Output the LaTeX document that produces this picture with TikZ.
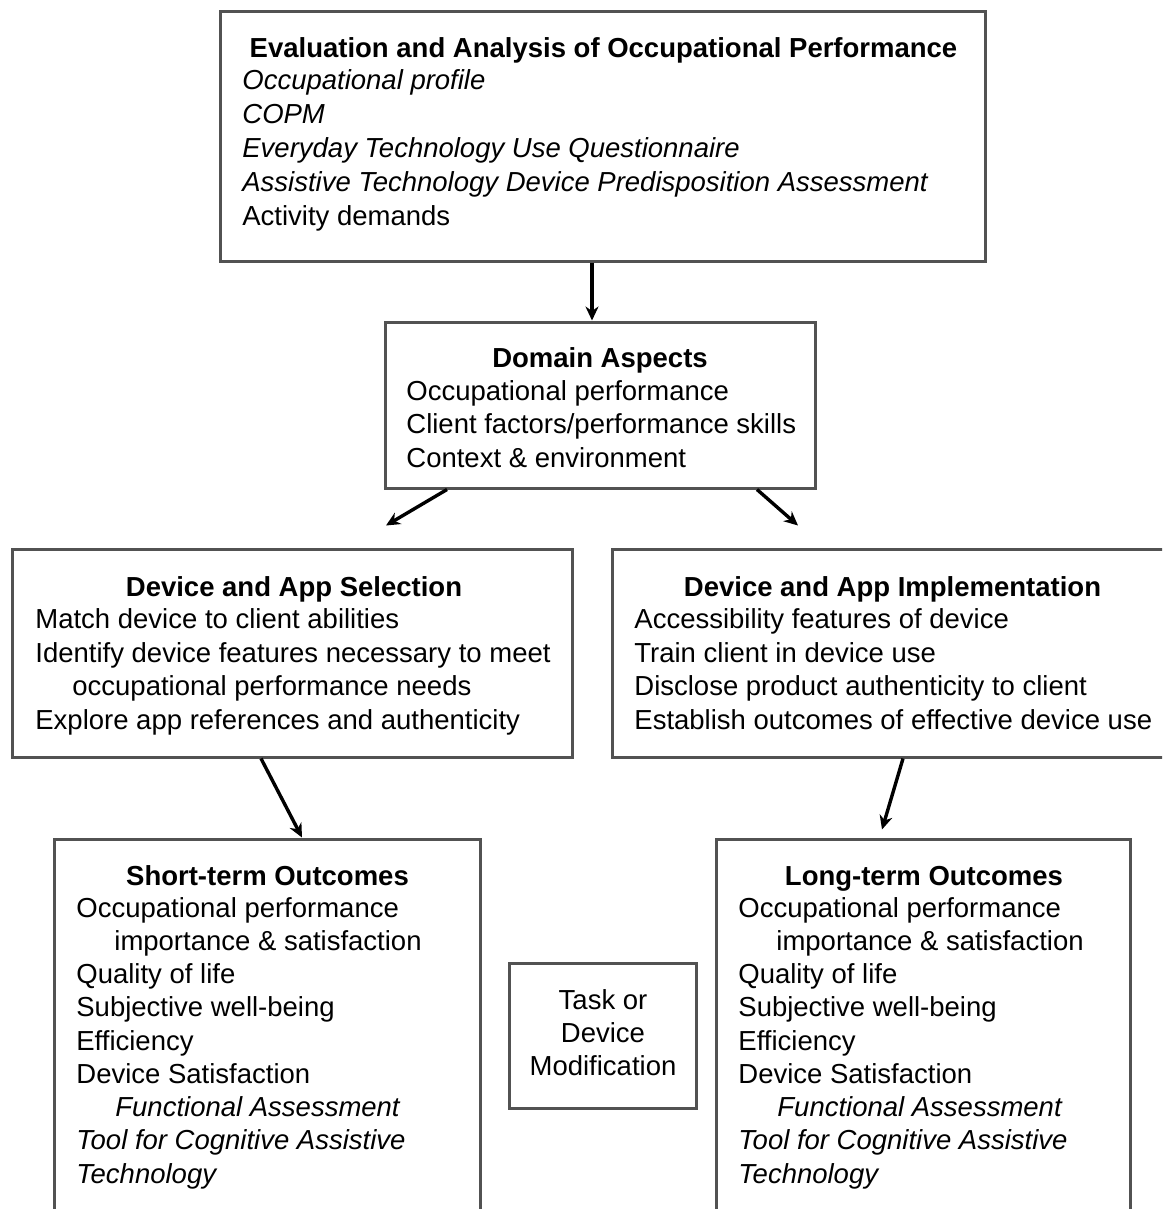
\documentclass[tikz,border=0pt]{standalone}
\usepackage{fontspec}
\setmainfont{Liberation Sans}
\usetikzlibrary{arrows.meta}
\tikzset{
  box/.style={draw=black!68, line width=1.5pt, inner sep=0pt, fill=none},
  ttl/.style={anchor=base, inner sep=0pt, font=\fontsize{13.75pt}{16.75pt}\selectfont\bfseries},
  body/.style={anchor=base west, inner sep=0pt, align=left, font=\fontsize{13.75pt}{16.7pt}\selectfont},
  arr/.style={draw=black, line width=1.7pt, -{Stealth[length=7pt,width=6.5pt]}}
}
\begin{document}
\begin{tikzpicture}[x=0.5pt,y=-0.5pt]
\fill[white] (0,0) rectangle (1162,1209);
\useasboundingbox (0,0) rectangle (1162,1209);
\clip (0,0) rectangle (1162,1209);

% boxes
\node[box, minimum width=382.5pt, minimum height=124.5pt] (top) at (602.5,136.5) {};
\node[box, minimum width=215pt, minimum height=83pt] (dom) at (600,405) {};
\node[box, minimum width=280pt, minimum height=104pt] (sel) at (292,653) {};
\node[box, minimum width=284pt, minimum height=104pt] (imp) at (896,653) {};
\node[box, minimum width=213pt, minimum height=200.5pt] (st) at (267,1039.5) {};
\node[box, minimum width=207pt, minimum height=200.5pt] (lt) at (923,1039.5) {};
\node[box, minimum width=93.5pt, minimum height=72.5pt] (task) at (602.5,1035.5) {};

% texts (body nodes are placed at the baseline of their last line)
\node[ttl] (topT) at (603.5,58) {Evaluation and Analysis of Occupational Performance};
\node[body, font=\fontsize{13.75pt}{17pt}\selectfont] (topB) at (242,226) {\textit{Occupational profile}\\
\textit{COPM}\\
\textit{Everyday Technology Use Questionnaire}\\
\textit{Assistive Technology Device Predisposition Assessment}\\
Activity demands};

\node[ttl] (domT) at (600,367) {Domain Aspects};
\node[body] (domB) at (406,467) {Occupational performance\\
Client factors/performance skills\\
Context \& environment};

\node[ttl] (selT) at (294,596) {Device and App Selection};
\node[body] (selB) at (35,729) {Match device to client abilities\\
Identify device features necessary to meet\\
\hspace*{18.5pt}occupational performance needs\\
Explore app references and authenticity};

\node[ttl] (impT) at (892.5,596) {Device and App Implementation};
\node[body] (impB) at (634,729) {Accessibility features of device\\
Train client in device use\\
Disclose product authenticity to client\\
Establish outcomes of effective device use};

\node[ttl] (stT) at (267.5,885) {Short-term Outcomes};
\node[body, font=\fontsize{13.75pt}{16.62pt}\selectfont] (stB) at (76,1183) {Occupational performance\\
\hspace*{19pt}importance \& satisfaction\\
Quality of life\\
Subjective well-being\\
Efficiency\\
Device Satisfaction\\
\hspace*{19.5pt}\textit{Functional Assessment}\\
\textit{Tool for Cognitive Assistive}\\
\textit{Technology}};

\node[ttl] (ltT) at (924,885) {Long-term Outcomes};
\node[body, font=\fontsize{13.75pt}{16.62pt}\selectfont] (ltB) at (738,1183) {Occupational performance\\
\hspace*{19pt}importance \& satisfaction\\
Quality of life\\
Subjective well-being\\
Efficiency\\
Device Satisfaction\\
\hspace*{19.5pt}\textit{Functional Assessment}\\
\textit{Tool for Cognitive Assistive}\\
\textit{Technology}};

\node[anchor=base, inner sep=0pt, align=center, font=\fontsize{13.75pt}{16.5pt}\selectfont] (taskT) at (603,1075) {Task or\\Device\\Modification};

% connectors
\draw[arr] ([xshift=-4pt]dom.north |- top.south) -- ([xshift=-4pt]dom.north);
\draw[arr] ([xshift=-76.5pt]dom.south) -- ([xshift=47pt,yshift=11pt]sel.north);
\draw[arr] ([xshift=78.5pt]dom.south) -- ([xshift=-49pt,yshift=11pt]imp.north);
\draw[arr] ([xshift=-15.5pt]sel.south) -- ([xshift=17.5pt]st.north);
\draw[arr] ([xshift=3.5pt]imp.south) -- ([xshift=-20.5pt,yshift=4pt]lt.north);
\end{tikzpicture}
\end{document}
